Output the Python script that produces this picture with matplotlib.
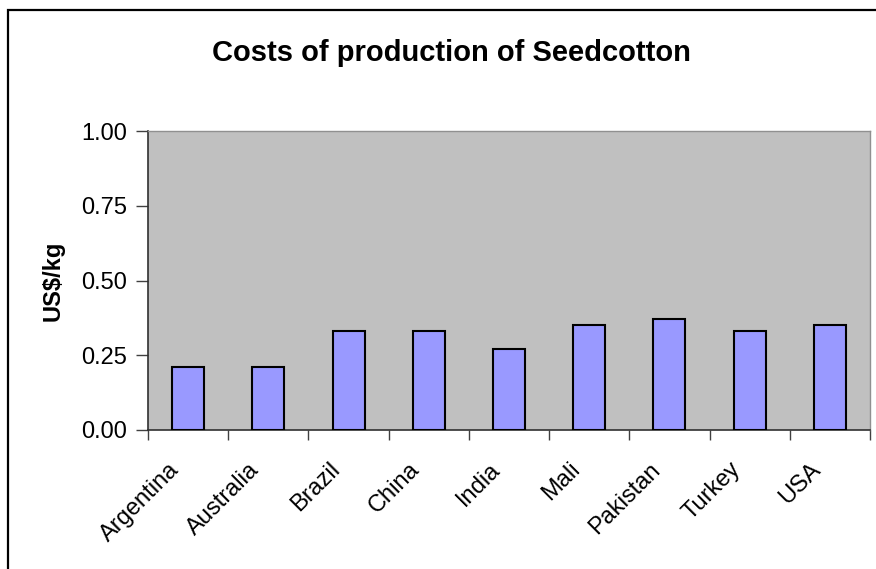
import matplotlib
matplotlib.use("Agg")
import matplotlib.pyplot as plt
from matplotlib.patches import Rectangle
import matplotlib.transforms as mtransforms
import numpy as np

plt.rcParams['font.family'] = ['Liberation Sans', 'DejaVu Sans']

countries = ["Argentina", "Australia", "Brazil", "China", "India", "Mali", "Pakistan", "Turkey", "USA"]
costs = [0.21, 0.21, 0.33, 0.33, 0.27, 0.35, 0.37, 0.33, 0.35]
yticks = [0.00, 0.25, 0.50, 0.75, 1.00]
title = "Costs of production of Seedcotton"
ylabel = "US$/kg"

W, H = 876, 569
fig = plt.figure(figsize=(W/100, H/100), dpi=100)
fig.patches.append(Rectangle((8/W, -0.1), 1.2, 1 - 10/H + 0.1, transform=fig.transFigure,
                             fill=False, edgecolor='black', linewidth=1.6))

ax = fig.add_axes([148/W, 1 - 430/H, (870-148)/W, (430-131)/H])
ax.set_facecolor('#C0C0C0')
x = np.arange(len(countries))
ax.bar(x, costs, width=0.4, color='#9999FF', edgecolor='black', linewidth=1.5, zorder=3)
ax.set_xlim(-0.5, len(countries) - 0.5)
ax.set_ylim(0, 1.0)
ax.set_yticks(yticks)
ax.set_yticklabels([f"{v:.2f}" for v in yticks], fontsize=17)
ax.set_xticks(x)
ax.set_xticklabels(countries, fontsize=17, rotation=45, ha='right', rotation_mode='anchor')
ax.set_xticks(np.arange(len(countries) + 1) - 0.5, minor=True)
ax.tick_params(axis='x', which='major', length=0, pad=14)
ax.tick_params(axis='x', which='minor', length=7, width=1, color='#404040')
ax.tick_params(axis='y', length=9, width=1, color='#404040', pad=6)
offset = mtransforms.ScaledTranslation(-20/100, -9/100, fig.dpi_scale_trans)
for lbl in ax.get_xticklabels():
    lbl.set_transform(lbl.get_transform() + offset)
for s in ['top', 'right']:
    ax.spines[s].set_color('#909090')
    ax.spines[s].set_linewidth(1)
for s in ['left', 'bottom']:
    ax.spines[s].set_color('#303030')
    ax.spines[s].set_linewidth(1.2)
ax.set_ylabel(ylabel, fontsize=17, fontweight='bold', labelpad=12)
fig.text(451/W, 1 - 53/H, title, fontsize=21, fontweight='bold', ha='center', va='center')

fig.savefig("out.png", dpi=100)
